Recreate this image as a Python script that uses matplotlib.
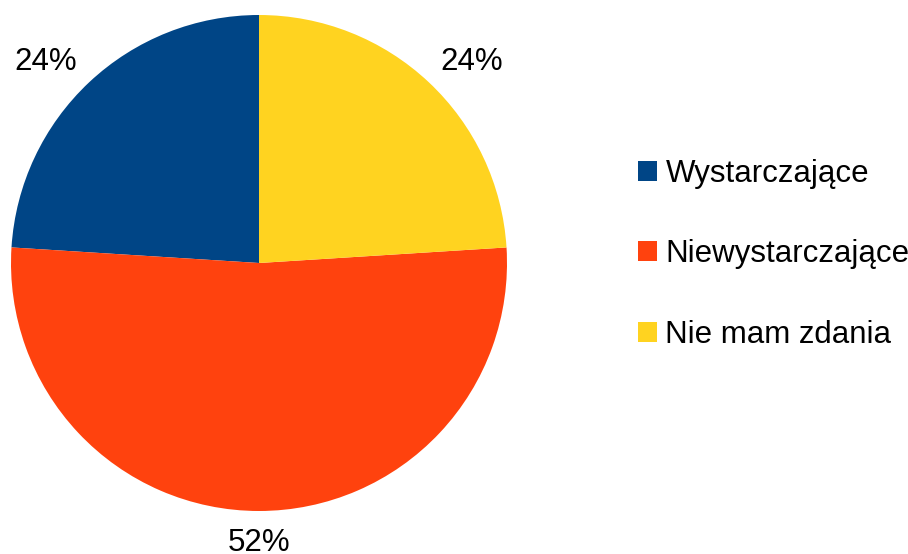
import numpy as np
import matplotlib.pyplot as plt

categories = ['Wystarczające', 'Niewystarczające', 'Nie mam zdania']
values = [24, 52, 24]
colors = ['#004586', '#ff420e', '#ffd320']

plt.rcParams['font.family'] = ['Liberation Sans', 'DejaVu Sans']

fig = plt.figure(figsize=(9.08, 5.54), dpi=100)
ax = fig.add_axes([11 / 908, (554 - 263 - 248) / 554, 496 / 908, 496 / 554])
wedges, _ = ax.pie(values, colors=colors, startangle=90, counterclock=True,
                   radius=1.0, wedgeprops=dict(linewidth=0))
ax.set_xlim(-1, 1)
ax.set_ylim(-1, 1)
ax.set_aspect('equal')

# percent labels: nearest corner of the text sits just outside the rim
for w, v in zip(wedges, values):
    ang = np.deg2rad((w.theta1 + w.theta2) / 2)
    c, s = np.cos(ang), np.sin(ang)
    ha = 'left' if c > 0.3 else ('right' if c < -0.3 else 'center')
    va = 'baseline' if s > 0 else 'top'
    ax.text(1.07 * c, 1.07 * s, f'{v}%', ha=ha, va=va,
            fontsize=22.5, clip_on=False)

leg = fig.legend(wedges, categories, loc='center left', bbox_to_anchor=(0.672, 0.541),
                 frameon=False, fontsize=22.5, handlelength=0.61, handleheight=0.61,
                 handletextpad=0.26, labelspacing=1.62, borderpad=0.4)

fig.savefig('out.png', dpi=100)
